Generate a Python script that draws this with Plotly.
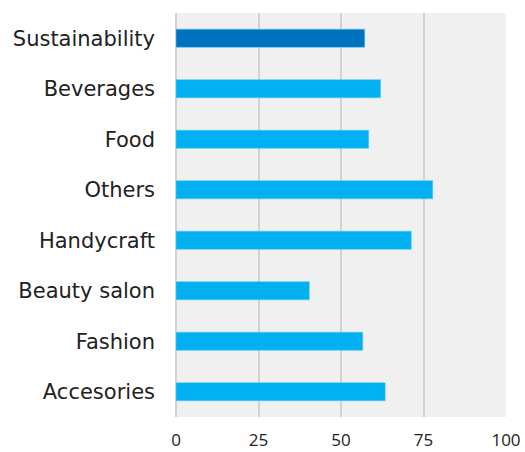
import plotly.graph_objects as go

# Categories listed top to bottom
categories = ["Sustainability", "Beverages", "Food", "Others",
              "Handycraft", "Beauty salon", "Fashion", "Accesories"]
values = [57.2, 62.0, 58.4, 77.8, 71.3, 40.4, 56.6, 63.4]
x_ticks = [0, 25, 50, 75, 100]

highlight = "Sustainability"
colors = ["#0070C0" if c == highlight else "#00B0F0" for c in categories]

fig = go.Figure(
    go.Bar(
        y=categories,
        x=values,
        orientation="h",
        width=0.36,
        marker=dict(color=colors, line=dict(color="#5CCBF5", width=0.6)),
        hoverinfo="x+y",
    )
)

fig.update_layout(
    width=525,
    height=452,
    margin=dict(l=176, r=19, t=13, b=35, autoexpand=False),
    paper_bgcolor="white",
    plot_bgcolor="#F0F0F0",
    showlegend=False,
    font=dict(family="DejaVu Sans", size=21, color="#222222"),
    xaxis=dict(
        range=[0, 100],
        tickvals=x_ticks,
        ticktext=[str(t) for t in x_ticks],
        tickfont=dict(family="Open Sans", size=17, color="#222222"),
        showgrid=True,
        gridcolor="#D2D2D2",
        gridwidth=2,
        zeroline=True,
        zerolinecolor="#D2D2D2",
        zerolinewidth=2,
        showline=False,
        ticks="",
        ticklabelstandoff=11,
        automargin=False,
        fixedrange=True,
    ),
    yaxis=dict(
        categoryorder="array",
        categoryarray=categories[::-1],
        tickfont=dict(family="DejaVu Sans", size=21, color="#222222"),
        showgrid=False,
        showline=False,
        ticks="",
        ticklabelstandoff=20,
        automargin=False,
        fixedrange=True,
    ),
)

fig.write_html("out.html")
